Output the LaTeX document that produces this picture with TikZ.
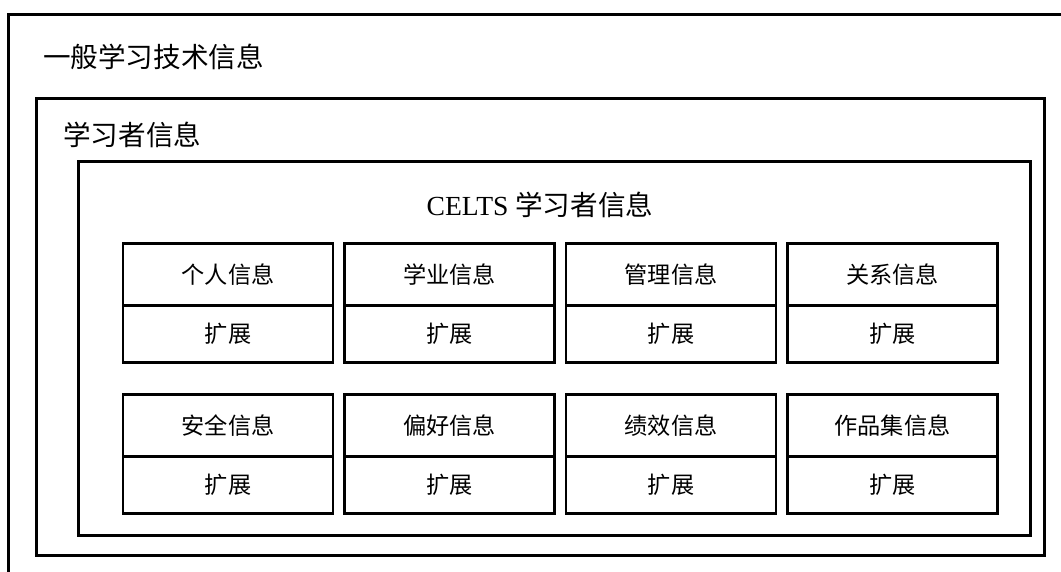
\documentclass[tikz,border=0pt]{standalone}
\usepackage{fontspec}
\setmainfont{Liberation Serif}
\newfontfamily\cjk{Noto Sans CJK SC}
\usetikzlibrary{positioning}

\begin{document}
\begin{tikzpicture}[
    x=1pt, y=1pt,
    node distance=0pt,
    frame/.style={rectangle, draw, line width=3pt, outer sep=0pt, inner sep=0pt},
    infobox/.style={rectangle, draw, line width=2.2pt, outer sep=0pt, minimum width=210pt, minimum height=62pt, font=\cjk\fontsize{23.2}{23.2}\selectfont},
    extbox/.style={infobox, minimum height=57pt},
    title/.style={anchor=west, inner sep=0pt, font=\cjk\fontsize{27.6}{27.6}\selectfont}
]

\useasboundingbox (0,0) rectangle (1061,-571);
\clip (0,0) rectangle (1061,-571);

% Frames
\node [frame, minimum width=1100pt, minimum height=600pt] (general) at (558.5,-314.5) {};
\node [frame, minimum width=1007.5pt, minimum height=456.5pt] (learner) at (540.25,-326.75) {};
\node [frame, minimum width=951.5pt, minimum height=374pt] (celts) at (554.25,-348) {};

% Titles
\node [title] (general_title) at (43,-57) {一般学习技术信息};
\node [title] (learner_title) at (63,-135) {学习者信息};
\node [inner sep=0pt, font=\fontsize{27.6}{27.6}\selectfont] (celts_title) at (540,-205) {CELTS {\cjk 学习者信息}};

% First row
\node [infobox] (personal) at (228,-274.5) {个人信息};
\node [extbox, below=of personal] (personal_ext) {扩展};
\node [infobox, right=11.5pt of personal] (academic) {学业信息};
\node [extbox, below=of academic] (academic_ext) {扩展};
\node [infobox, right=11.5pt of academic] (management) {管理信息};
\node [extbox, below=of management] (management_ext) {扩展};
\node [infobox, right=11.5pt of management] (relation) {关系信息};
\node [extbox, below=of relation] (relation_ext) {扩展};

% Second row
\node [infobox, below=32pt of personal_ext] (security) {安全信息};
\node [extbox, below=of security] (security_ext) {扩展};
\node [infobox, right=11.5pt of security] (preference) {偏好信息};
\node [extbox, below=of preference] (preference_ext) {扩展};
\node [infobox, right=11.5pt of preference] (performance) {绩效信息};
\node [extbox, below=of performance] (performance_ext) {扩展};
\node [infobox, right=11.5pt of performance] (portfolio) {作品集信息};
\node [extbox, below=of portfolio] (portfolio_ext) {扩展};

\end{tikzpicture}
\end{document}
